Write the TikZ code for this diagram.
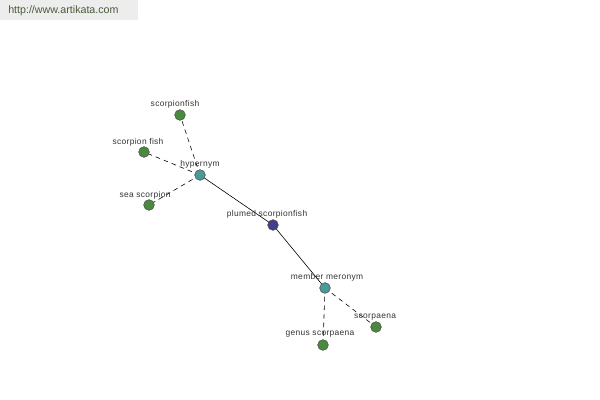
\documentclass[tikz,border=0pt]{standalone}
\usepackage{fontspec}
\setmainfont{Liberation Sans}
\newfontfamily\lblfont[LetterSpace=4]{Liberation Sans}
\definecolor{leafc}{HTML}{4A8A3E}
\definecolor{midc}{HTML}{4A9A9A}
\definecolor{rootc}{HTML}{40408A}
\definecolor{urlc}{HTML}{4A5A3A}
\begin{document}
\begin{tikzpicture}[x=0.75pt,y=-0.75pt,
  dot/.style={circle,draw=black!70,line width=0.4pt,minimum size=8pt,inner sep=0pt},
  leaf/.style={dot,fill=leafc},
  mid/.style={dot,fill=midc},
  root/.style={dot,fill=rootc},
  lbl/.style={font=\lblfont\fontsize{6.3pt}{7pt}\selectfont,text=black!80,inner sep=0pt},
  dsh/.style={draw=black,dash pattern=on 3.5pt off 3pt,line width=0.45pt},
  sol/.style={draw=black,line width=0.45pt}]
\useasboundingbox (0,0) rectangle (600,400);
\fill[white] (0,0) rectangle (600,400);
\fill[black!7] (0,0) rectangle (138,20);
\node[anchor=west,font=\fontsize{8pt}{9pt}\selectfont,text=urlc,inner sep=0pt] (url) at (8,11) {http://www.artikata.com};
% circles
\coordinate (c1) at (180,115);
\coordinate (c2) at (144,152);
\coordinate (c3) at (200,175);
\coordinate (c4) at (149,205);
\coordinate (c5) at (273,225);
\coordinate (c6) at (325,288);
\coordinate (c7) at (376,327);
\coordinate (c8) at (323,345);
\draw[dsh] (c3) -- (c1);
\draw[dsh] (c3) -- (c2);
\draw[dsh] (c3) -- (c4);
\draw[sol] (c3) -- (c5);
\draw[sol] (c5) -- (c6);
\draw[dsh] (c6) -- (c7);
\draw[dsh] (c6) -- (c8);
\node[leaf] (n1) at (c1) {};
\node[leaf] (n2) at (c2) {};
\node[mid] (n3) at (c3) {};
\node[leaf] (n4) at (c4) {};
\node[root] (n5) at (c5) {};
\node[mid] (n6) at (c6) {};
\node[leaf] (n7) at (c7) {};
\node[leaf] (n8) at (c8) {};
\node[lbl] (l1) at (175,104) {scorpionfish};
\node[lbl] (l2) at (138,142) {scorpion fish};
\node[lbl] (l3) at (200,164) {hypernym};
\node[lbl] (l4) at (145,195) {sea scorpion};
\node[lbl] (l5) at (267,214) {plumed scorpionfish};
\node[lbl] (l6) at (327,277) {member meronym};
\node[lbl] (l7) at (375,317) {scorpaena};
\node[lbl] (l8) at (320,334) {genus scorpaena};
\end{tikzpicture}
\end{document}
